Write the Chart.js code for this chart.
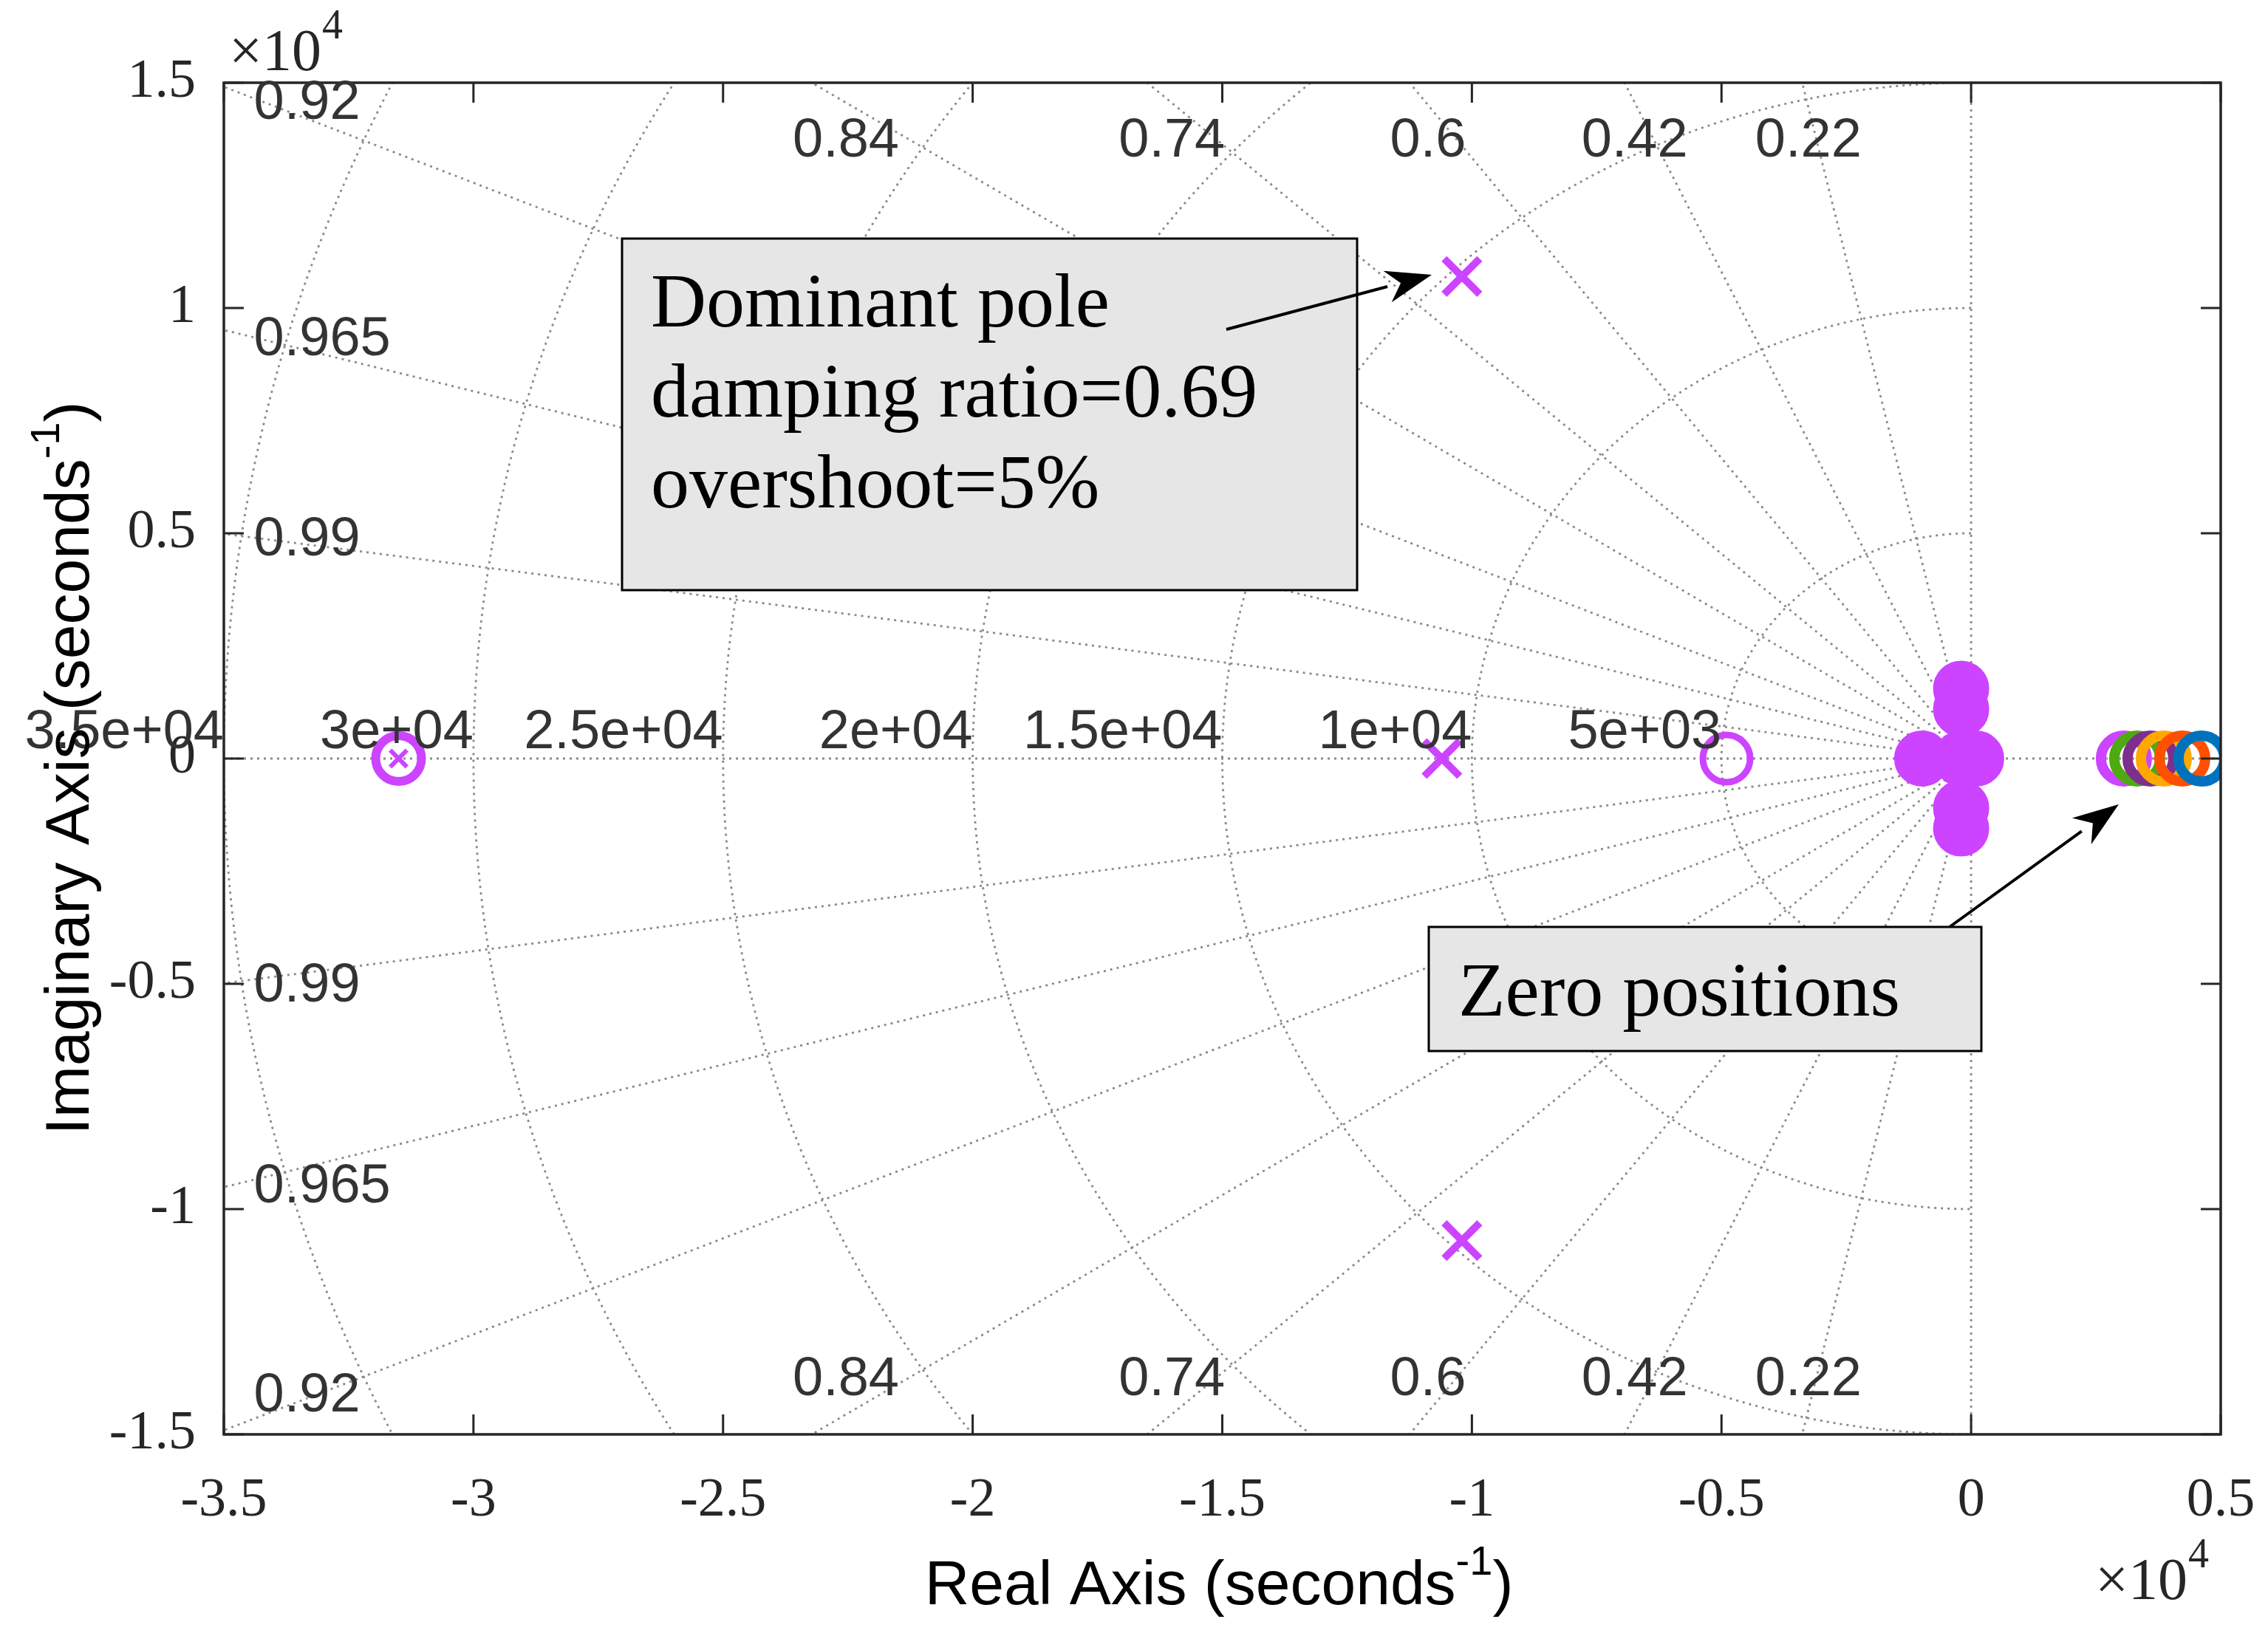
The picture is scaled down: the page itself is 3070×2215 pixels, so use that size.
<!DOCTYPE html>
<html><head><meta charset="utf-8">
<script src="https://cdn.jsdelivr.net/npm/chart.js@4.4.1/dist/chart.umd.min.js"></script>
<style>html,body{margin:0;padding:0;background:#fff}#w{width:3070px;height:2215px}</style>
</head><body><div id="w"><canvas id="c"></canvas></div>
<script>
const xTicks = [-35000,-30000,-25000,-20000,-15000,-10000,-5000,0,5000];
const yTicks = [-15000,-10000,-5000,0,5000,10000,15000];
const zetaValues = [0.22,0.42,0.6,0.74,0.84,0.92,0.965,0.99];
const zetaTopLabels = ['0.22','0.42','0.6','0.74','0.84'];
const zetaTopLabelX = [-3260,-6740,-10880,-16010,-22540];
const zetaSideLabels = ['0.92','0.965','0.99'];
const wnValues = [5000,10000,15000,20000,25000,30000,35000];
const wnLabels = ['5e+03','1e+04','1.5e+04','2e+04','2.5e+04','3e+04','3.5e+04'];
const poles = [{x:-10200,y:10700},{x:-10200,y:-10700},{x:-10600,y:0}];
const farPole = [{x:-31500,y:0}];
const zeroOpen = [{x:-4900,y:0}];
const originCluster = [{x:-200,y:1550},{x:-200,y:1100},{x:-200,y:-1550},{x:-200,y:-1100},{x:-980,y:0},{x:100,y:0},{x:-200,y:0}];
const zeroSeriesX = [4614,4230,3860,3593,3327,3060];
const zeroColors = ['#0072BD','#FF5000','#FFA800','#7E2F8E','#4DAA10','#CC44FF'];
const PURPLE = '#CC44FF';

const serif = '"Liberation Serif", "Times New Roman", serif';
const sans = '"Liberation Sans", Arial, sans-serif';

const datasets = [];
datasets.push({data: originCluster, pointStyle:'circle', pointRadius:31, borderWidth:14, borderColor:PURPLE, backgroundColor:PURPLE, showLine:false});
zeroSeriesX.forEach((x,i)=>datasets.push({data:[{x:x,y:0}], pointStyle:'circle', pointRadius:31, borderWidth:14, borderColor:zeroColors[i], backgroundColor:'rgba(0,0,0,0)', showLine:false}));
datasets.push({data: poles, pointStyle:'crossRot', pointRadius:34, borderWidth:10, borderColor:PURPLE, showLine:false});
datasets.push({data: farPole, pointStyle:'circle', pointRadius:31, borderWidth:12, borderColor:PURPLE, backgroundColor:'rgba(0,0,0,0)', showLine:false});
datasets.push({data: farPole, pointStyle:'crossRot', pointRadius:16, borderWidth:6, borderColor:PURPLE, showLine:false});
datasets.push({data: zeroOpen, pointStyle:'circle', pointRadius:32, borderWidth:9, borderColor:PURPLE, backgroundColor:'rgba(0,0,0,0)', showLine:false});

function arrow(ctx,x1,y1,x2,y2){
  ctx.save();ctx.strokeStyle='#000';ctx.fillStyle='#000';ctx.lineWidth=4;
  const a=Math.atan2(y2-y1,x2-x1),L=62,W=22;
  const bx=x2-L*Math.cos(a),by=y2-L*Math.sin(a);
  ctx.beginPath();ctx.moveTo(x1,y1);ctx.lineTo(bx,by);ctx.stroke();
  ctx.beginPath();ctx.moveTo(x2,y2);
  ctx.lineTo(bx+W*Math.sin(a),by-W*Math.cos(a));
  ctx.lineTo(bx+0.3*L*Math.cos(a),by+0.3*L*Math.sin(a));
  ctx.lineTo(bx-W*Math.sin(a),by+W*Math.cos(a));ctx.closePath();ctx.fill();
  ctx.restore();
}

const plugin = {
  id:'sgrid',
  beforeDatasetsDraw(chart){
    const {ctx,chartArea:a,scales:{x,y}}=chart;
    ctx.save();ctx.beginPath();ctx.rect(a.left,a.top,a.right-a.left,a.bottom-a.top);ctx.clip();
    ctx.strokeStyle='#8a8a8a';ctx.lineWidth=2.8;ctx.setLineDash([3,6]);
    const X=v=>x.getPixelForValue(v),Y=v=>y.getPixelForValue(v);
    zetaValues.forEach(z=>{
      const t=Math.acos(z),R=60000;
      [1,-1].forEach(s=>{ctx.beginPath();ctx.moveTo(X(0),Y(0));ctx.lineTo(X(-R*Math.cos(t)),Y(s*R*Math.sin(t)));ctx.stroke();});
    });
    wnValues.forEach(w=>{
      ctx.beginPath();
      for(let i=0;i<=200;i++){const p=Math.PI/2+Math.PI*i/200;const px=X(w*Math.cos(p)),py=Y(w*Math.sin(p));if(i)ctx.lineTo(px,py);else ctx.moveTo(px,py);}
      ctx.stroke();
    });
    ctx.beginPath();ctx.moveTo(a.left,Y(0));ctx.lineTo(a.right,Y(0));ctx.stroke();
    ctx.beginPath();ctx.moveTo(X(0),a.top);ctx.lineTo(X(0),a.bottom);ctx.stroke();
    ctx.restore();
  },
  afterDraw(chart){
    const {ctx,chartArea:a,scales:{x,y}}=chart;
    const X=v=>x.getPixelForValue(v),Y=v=>y.getPixelForValue(v);
    ctx.save();
    ctx.strokeStyle='#262626';ctx.lineWidth=3.5;ctx.setLineDash([]);
    ctx.strokeRect(a.left,a.top,a.right-a.left,a.bottom-a.top);
    ctx.lineWidth=3;
    xTicks.forEach(v=>{const p=X(v);ctx.beginPath();ctx.moveTo(p,a.bottom);ctx.lineTo(p,a.bottom-27);ctx.moveTo(p,a.top);ctx.lineTo(p,a.top+27);ctx.stroke();});
    yTicks.forEach(v=>{const p=Y(v);ctx.beginPath();ctx.moveTo(a.left,p);ctx.lineTo(a.left+27,p);ctx.moveTo(a.right,p);ctx.lineTo(a.right-27,p);ctx.stroke();});
    ctx.fillStyle='#333';ctx.font='74px '+sans;
    ctx.textAlign='center';ctx.textBaseline='middle';
    zetaTopLabels.forEach((l,i)=>{ctx.fillText(l,X(zetaTopLabelX[i]),Y(13700));ctx.fillText(l,X(zetaTopLabelX[i]),Y(-13800));});
    ctx.textAlign='left';
    zetaSideLabels.forEach(l=>{const z=parseFloat(l);const yy=34400*Math.tan(Math.acos(z));
      ctx.fillText(l,X(-34400),Y(Math.min(yy,14600))+4);ctx.fillText(l,X(-34400),Y(-Math.min(yy,14000))+10);});
    ctx.textAlign='right';ctx.textBaseline='alphabetic';
    wnValues.forEach((w,i)=>{ctx.fillText(wnLabels[i],X(-w),Y(0)-14);});
    ctx.fillStyle='#262626';ctx.textAlign='left';
    ctx.font='80px '+serif;ctx.fillText('\u00d710',310,95);ctx.font='56px '+serif;ctx.fillText('4',436,52);
    ctx.font='80px '+serif;ctx.fillText('\u00d710',2836,2165);ctx.font='56px '+serif;ctx.fillText('4',2962,2122);
    function sup(txt,cx,cy){
      ctx.font='84px '+sans;const w1=ctx.measureText(txt).width;ctx.font='56px '+sans;const w2=ctx.measureText('-1').width;ctx.font='84px '+sans;const w3=ctx.measureText(')').width;
      let s=cx-(w1+w2+w3)/2;ctx.textAlign='left';ctx.fillText(txt,s,cy);
      ctx.font='56px '+sans;ctx.fillText('-1',s+w1,cy-40);ctx.font='84px '+sans;ctx.fillText(')',s+w1+w2,cy);
    }
    ctx.fillStyle='#000';
    sup('Real Axis (seconds',1650,2172);
    ctx.save();ctx.translate(120,1040);ctx.rotate(-Math.PI/2);sup('Imaginary Axis (seconds',0,0);ctx.restore();
    ctx.fillStyle='#E6E6E6';ctx.strokeStyle='#000';ctx.lineWidth=3;
    ctx.fillRect(842,323,995,476);ctx.strokeRect(842,323,995,476);
    ctx.fillRect(1934,1255,748,168);ctx.strokeRect(1934,1255,748,168);
    ctx.fillStyle='#000';ctx.font='104px '+serif;ctx.textAlign='left';
    ctx.fillText('Dominant pole',881,442);ctx.fillText('damping ratio=0.69',881,564);ctx.fillText('overshoot=5%',881,687);
    ctx.fillText('Zero positions',1974,1375);
    arrow(ctx,1660,446,1938,372);
    arrow(ctx,2639,1255,2868,1089);
    ctx.restore();
  }
};

new Chart(document.getElementById('c'),{
  type:'scatter',
  data:{datasets},
  options:{
    responsive:true,maintainAspectRatio:false,animation:false,
    layout:{padding:{left:0,top:112,right:64,bottom:0}},
    plugins:{legend:{display:false},tooltip:{enabled:false}},
    scales:{
      x:{type:'linear',min:-35000,max:5000,grid:{display:false},border:{display:false},
        afterBuildTicks:s=>{s.ticks=xTicks.map(v=>({value:v}));},
        afterFit:s=>{s.height=273;s.paddingLeft=0;s.paddingRight=0;},
        ticks:{padding:38,color:'#262626',font:{family:serif,size:74},callback:v=>String(v/10000)}},
      y:{type:'linear',min:-15000,max:15000,grid:{display:false},border:{display:false},
        afterBuildTicks:s=>{s.ticks=yTicks.map(v=>({value:v}));},
        afterFit:s=>{s.width=303;s.paddingTop=0;s.paddingBottom=0;},
        ticks:{padding:30,color:'#262626',font:{family:serif,size:74},callback:v=>String(v/10000)}}
    }
  },
  plugins:[plugin]
});
</script></body></html>
